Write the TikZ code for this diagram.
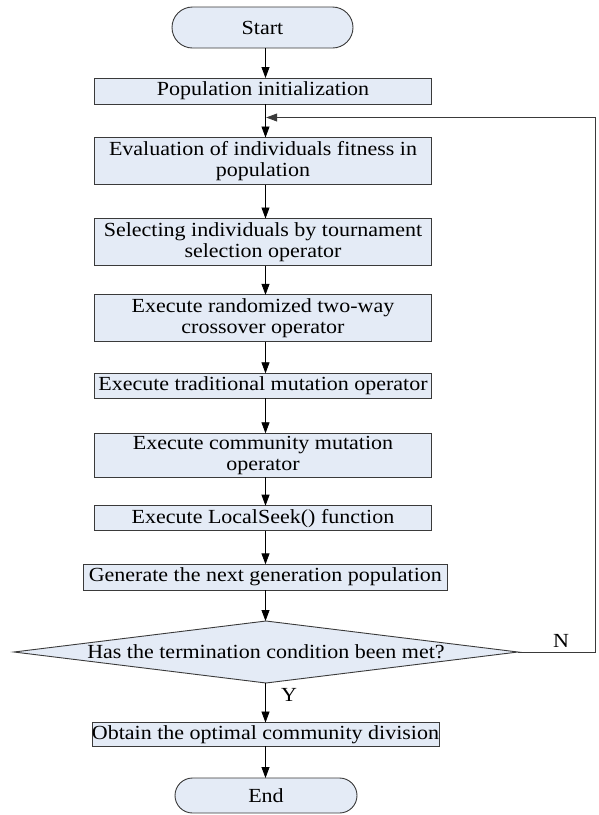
\documentclass[tikz,border=0pt]{standalone}
\usepackage{fontspec}
\setmainfont{Liberation Serif}[FakeStretch=1.1]
\usetikzlibrary{arrows.meta,shapes.geometric,shapes.misc}
\definecolor{boxfill}{HTML}{E4EBF6}
\definecolor{boxline}{HTML}{3A3A3A}

\begin{document}
\begin{tikzpicture}[x=1pt,y=-1pt,
  font=\fontsize{20}{21}\selectfont,
  every node/.style={inner sep=0pt, outer sep=0pt},
  procbox/.style={draw=boxline, line width=0.9pt, fill=boxfill, rectangle,
    minimum width=337.4pt, align=center},
  terminal/.style={draw=boxline, line width=0.9pt, fill=boxfill,
    rounded rectangle, minimum width=181pt},
  decision/.style={draw=boxline, line width=0.9pt, fill=boxfill, diamond,
    minimum width=504pt, minimum height=62pt},
  flow/.style={line width=0.8pt, draw=black, -{Triangle[length=11pt,width=8pt]}},
  loopflow/.style={line width=0.8pt, draw=boxline, -{Triangle[length=11pt,width=8pt]}}]

\useasboundingbox (0,0) rectangle (598,815);

% vertical axis of the main flow
\coordinate (ax) at (265.5,0);

% process steps
\node[terminal, minimum height=41pt] (start) at (262.5,27.5) {Start};
\node[procbox, minimum height=26pt] (init) at (263,91) {Population initialization};
\node[procbox, minimum height=47pt] (eval) at (263,161)
  {Evaluation of individuals fitness in\\population};
\node[procbox, minimum height=47pt] (select) at (263,242)
  {Selecting individuals by tournament\\selection operator};
\node[procbox, minimum height=47pt] (cross) at (263,318.3)
  {Execute randomized two-way\\crossover operator};
\node[procbox, minimum height=25pt] (trad) at (263,385.8)
  {Execute traditional mutation operator};
\node[procbox, minimum height=44pt] (comm) at (263,455.3)
  {Execute community mutation\\operator};
\node[procbox, minimum height=25pt] (local) at (263,518.2)
  {Execute LocalSeek() function};
\node[procbox, minimum width=364pt, minimum height=25.7pt] (gen) at (265.3,577.2)
  {Generate the next generation population};
\node[decision, label=center:{Has the termination condition been met?}] (dec) at (266,652) {};
\node[procbox, minimum width=345pt, minimum height=23.5pt] (obtain) at (265.5,734.3)
  {Obtain the optimal community division};
\node[terminal, minimum width=182pt, minimum height=35pt] (end) at (266,795.5) {End};

% branch labels
\node (nlab) at (561,641) {N};
\node (ylab) at (289,695) {Y};

% main flow
\draw[flow] (start.south -| ax) -- (init.north -| ax);
\draw[flow] (init.south -| ax) -- (eval.north -| ax);
\draw[flow] (eval.south -| ax) -- (select.north -| ax);
\draw[flow] (select.south -| ax) -- (cross.north -| ax);
\draw[flow] (cross.south -| ax) -- (trad.north -| ax);
\draw[flow] (trad.south -| ax) -- (comm.north -| ax);
\draw[flow] (comm.south -| ax) -- (local.north -| ax);
\draw[flow] (local.south -| ax) -- (gen.north -| ax);
\draw[flow] (gen.south -| ax) -- (dec.north -| ax);
\draw[flow] (dec.south -| ax) -- (obtain.north -| ax);
\draw[flow] (obtain.south -| ax) -- (end.north -| ax);

% loop back when the condition is not met
\coordinate (merge) at (266.2,117.5);
\draw[loopflow] (dec.east) -- ++(77,0) |- (merge);
\end{tikzpicture}
\end{document}
